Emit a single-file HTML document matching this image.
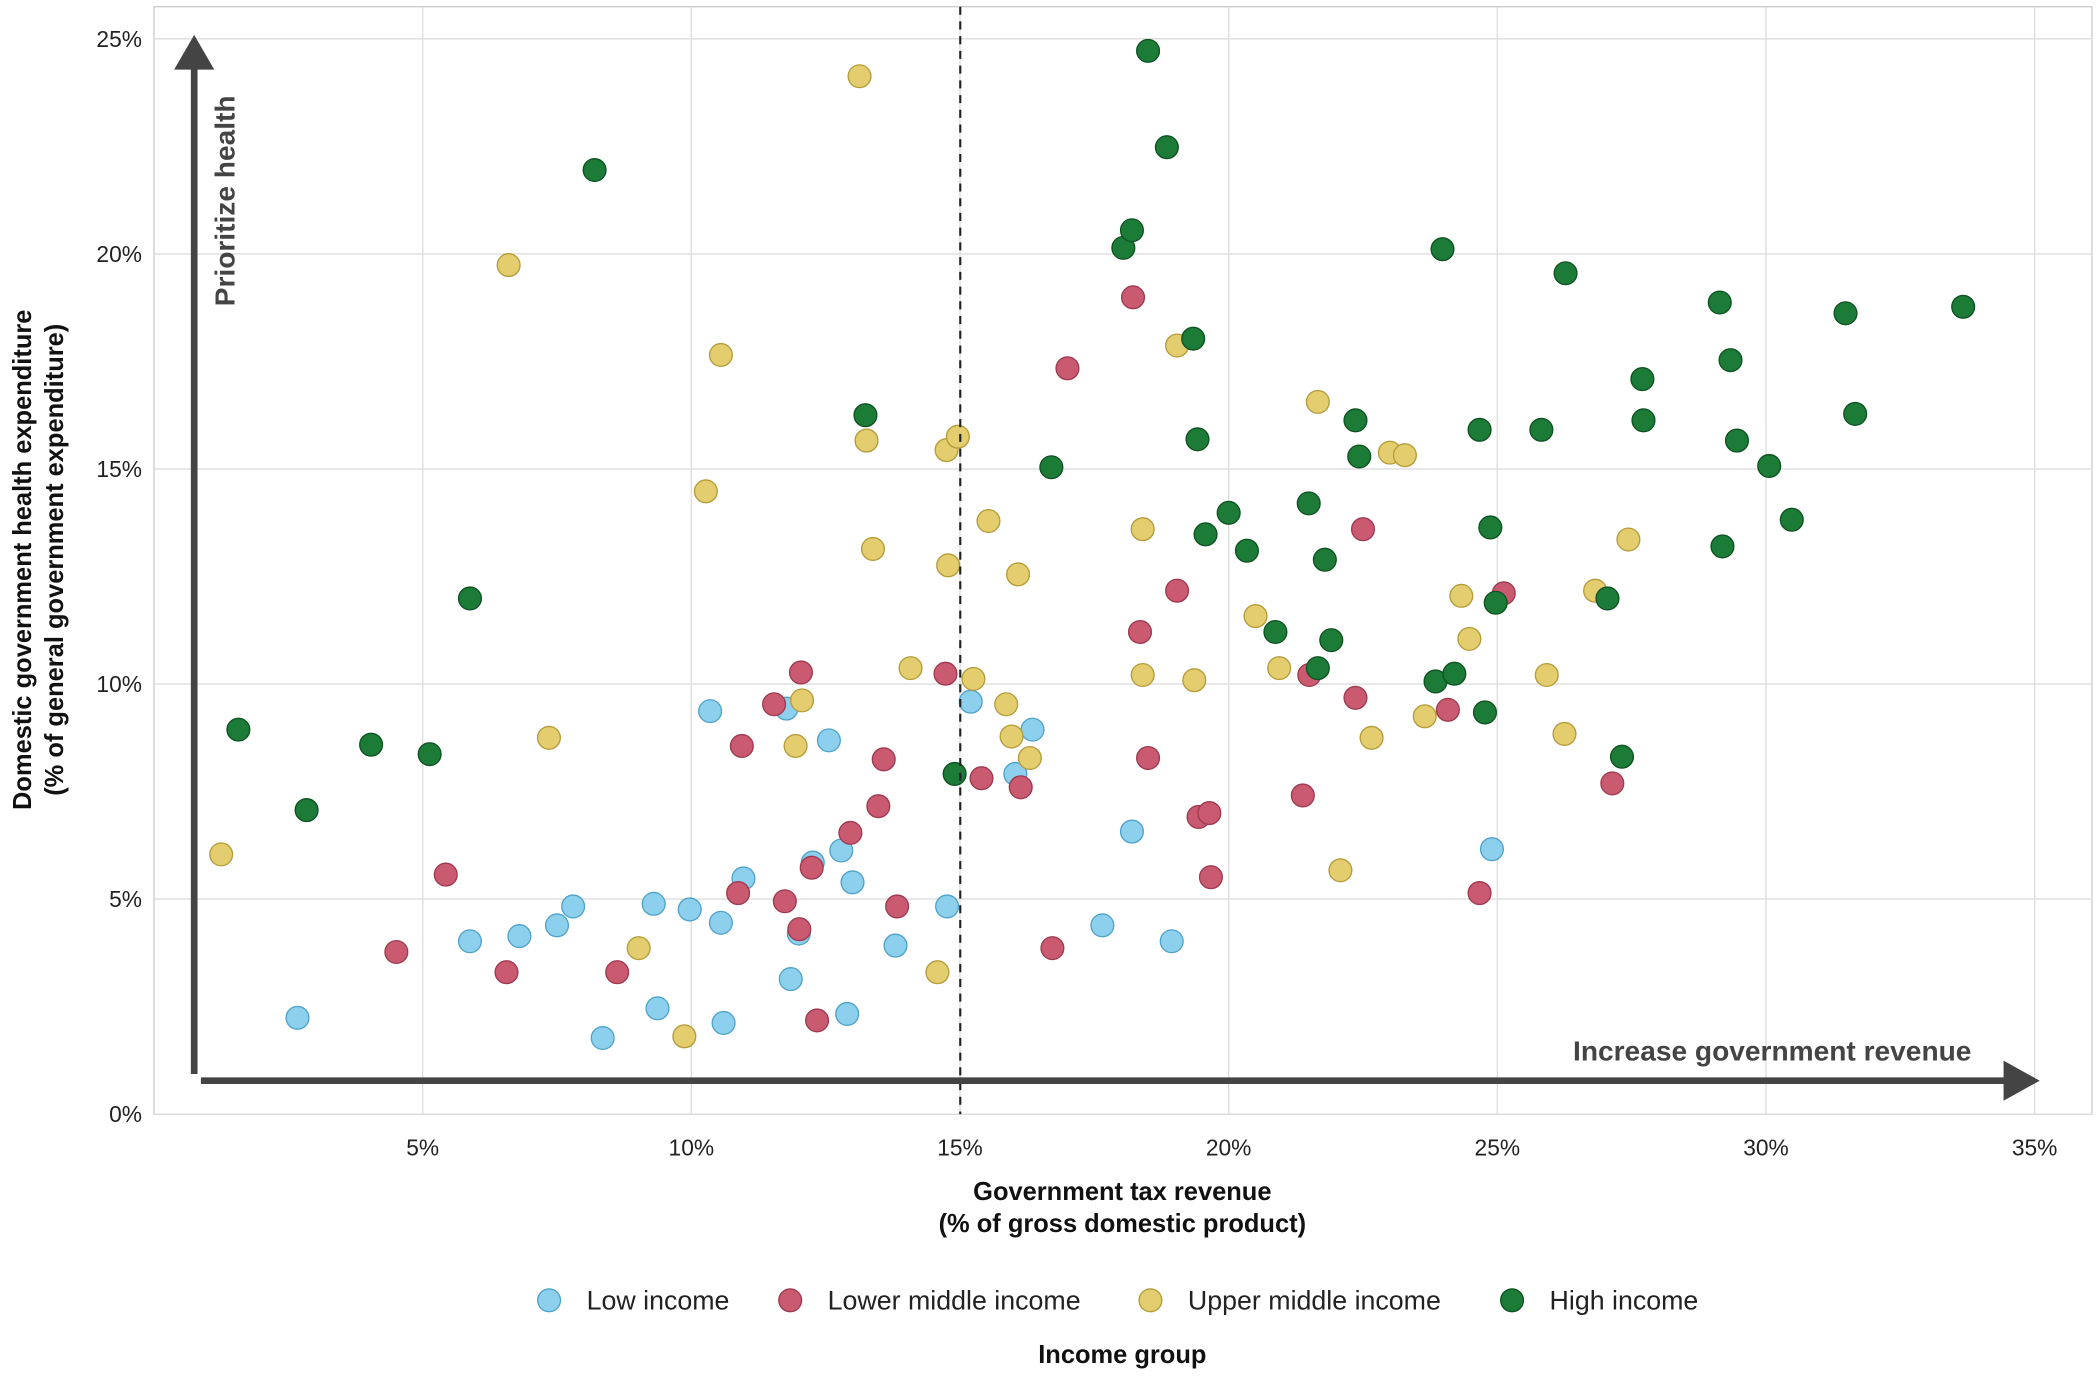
<!DOCTYPE html>
<html><head><meta charset="utf-8"><style>
html,body{margin:0;padding:0;background:#fff;}
svg{display:block;font-family:"Liberation Sans",sans-serif;}
</style></head><body>
<svg id="chart" width="2100" height="1382" viewBox="0 0 1568 1032" preserveAspectRatio="none" xmlns="http://www.w3.org/2000/svg">
<g id="grid"></g>
<g id="axes"></g>
<g id="points"></g>
<g id="annot">
  <line x1="717" y1="5" x2="717" y2="832" stroke="#222" stroke-width="1.6" stroke-dasharray="6,5"/>
  <line x1="145" y1="802" x2="145" y2="50" stroke="#444" stroke-width="5"/>
  <polygon points="145,26 130,52 160,52" fill="#444"/>
  <line x1="150" y1="807" x2="1498" y2="807" stroke="#444" stroke-width="5"/>
  <polygon points="1523,807 1496,792 1496,822" fill="#444"/>
  <text transform="translate(175,150) rotate(-90)" text-anchor="middle" font-size="21" font-weight="bold" fill="#444">Prioritize health</text>
  <text x="1472" y="792" text-anchor="end" font-size="21" font-weight="bold" fill="#444">Increase government revenue</text>
  <text x="838" y="896" text-anchor="middle" font-size="19" font-weight="bold" fill="#111">Government tax revenue</text>
  <text x="838" y="920" text-anchor="middle" font-size="19" font-weight="bold" fill="#111">(% of gross domestic product)</text>
  <text transform="translate(23,418) rotate(-90)" text-anchor="middle" font-size="19" font-weight="bold" fill="#111">Domestic government health expenditure</text>
  <text transform="translate(47,418) rotate(-90)" text-anchor="middle" font-size="19" font-weight="bold" fill="#111">(% of general government expenditure)</text>
  <text x="838" y="1018" text-anchor="middle" font-size="19" font-weight="bold" fill="#111">Income group</text>
</g>
<g id="legend"></g>
</svg>
<script>
const xTicks = [5,10,15,20,25,30,35];
const yTicks = [0,5,10,15,20,25];
const groupNames = ["Low income","Lower middle income","Upper middle income","High income"];
const lowX = [2.67,5.88,6.8,7.5,7.8,8.35,9.3,9.37,9.97,10.35,10.55,10.6,10.97,11.77,11.85,12.0,12.26,12.56,12.79,12.9,13.0,13.8,14.76,15.2,16.03,16.35,17.65,18.2,18.94,24.9];
const lowY = [2.24,4.02,4.14,4.39,4.83,1.77,4.89,2.46,4.76,9.37,4.45,2.12,5.48,9.43,3.14,4.2,5.85,8.69,6.13,2.33,5.39,3.92,4.83,9.59,7.91,8.94,4.39,6.57,4.02,6.16];
const lmX = [4.51,5.43,6.56,8.62,10.87,10.94,11.54,11.74,12.04,12.01,12.24,12.34,12.96,13.48,13.58,13.83,14.73,15.4,16.13,16.72,17.0,18.22,18.35,18.5,19.04,19.44,19.64,19.67,21.38,21.5,22.36,22.5,24.08,24.67,25.12,27.14];
const lmY = [3.77,5.57,3.3,3.3,5.14,8.56,9.53,4.95,10.27,4.3,5.73,2.18,6.54,7.16,8.25,4.83,10.24,7.81,7.6,3.86,17.34,18.99,11.21,8.28,12.17,6.91,7.0,5.51,7.41,10.21,9.68,13.6,9.4,5.14,12.11,7.69];
const umX = [1.25,6.6,7.35,9.02,9.87,10.27,10.55,11.94,12.06,13.13,13.26,13.38,14.08,14.58,14.75,14.78,14.96,15.25,15.53,15.86,15.96,16.08,16.3,18.4,18.4,19.04,19.36,20.5,20.94,21.66,22.08,22.66,23.0,23.28,23.65,24.33,24.48,25.92,26.25,26.82,27.44];
const umY = [6.04,19.74,8.75,3.86,1.81,14.48,17.65,8.56,9.62,24.13,15.66,13.14,10.37,3.3,15.44,12.76,15.75,10.12,13.79,9.53,8.78,12.55,8.28,13.6,10.21,17.87,10.09,11.58,10.37,16.56,5.67,8.75,15.38,15.32,9.25,12.05,11.05,10.21,8.84,12.17,13.36];
const hiX = [1.57,2.84,4.04,5.13,5.88,8.2,13.24,14.9,16.7,18.04,18.2,18.5,18.85,19.34,19.42,19.57,20.0,20.34,20.87,21.49,21.66,21.79,21.91,22.36,22.43,23.85,23.98,24.2,24.67,24.77,24.87,24.97,25.82,26.27,27.05,27.32,27.7,27.72,29.14,29.19,29.34,29.46,30.06,30.48,31.48,31.66,33.67];
const hiY = [8.94,7.07,8.59,8.37,11.99,21.95,16.25,7.91,15.04,20.14,20.55,24.72,22.48,18.03,15.69,13.48,13.98,13.1,11.21,14.2,10.37,12.89,11.02,16.13,15.29,10.06,20.11,10.24,15.91,9.34,13.64,11.89,15.91,19.55,11.99,8.31,17.09,16.13,18.87,13.2,17.53,15.66,15.07,13.82,18.62,16.28,18.77];

const NS="http://www.w3.org/2000/svg";
const L=115,R=1562,T=5,B=832;
const xs=v=>L+v*40.12;
const ys=v=>B-v*32.12;
function mk(tag,attrs,parent){const e=document.createElementNS(NS,tag);for(const k in attrs)e.setAttribute(k,attrs[k]);parent.appendChild(e);return e;}
const grid=document.getElementById('grid'),axes=document.getElementById('axes'),pts=document.getElementById('points'),leg=document.getElementById('legend');
const frame=mk('rect',{x:L,y:T,width:R-L,height:B-T,fill:'none',stroke:'#ccc','stroke-width':1},grid);


xTicks.forEach(t=>{
  const g=mk('line',{x1:xs(t),x2:xs(t),y1:T,y2:B,stroke:'#ddd','stroke-width':1},grid);
  
  
  const tx=mk('text',{x:xs(t),y:863,'text-anchor':'middle','font-size':17,fill:'#222'},axes);
  tx.textContent=t+'%';
  
  
});
yTicks.forEach(t=>{
  const g=mk('line',{x1:L,x2:R,y1:ys(t),y2:ys(t),stroke:'#ddd','stroke-width':1},grid);
  
  
  const tx=mk('text',{x:106,y:ys(t)+6,'text-anchor':'end','font-size':17,fill:'#222'},axes);
  tx.textContent=t+'%';
  
  
});
const styles=[{f:'#8dd0ee',s:'#4fa3c9'},{f:'#c95a70',s:'#9e3a50'},{f:'#e4cd6e',s:'#b59c3a'},{f:'#1c7b37',s:'#0e5222'}];
const series=[[lowX,lowY],[lmX,lmY],[umX,umY],[hiX,hiY]];
series.forEach((sr,gi)=>{
  sr[0].forEach((x,i)=>{
    const c=mk('circle',{cx:xs(x),cy:ys(sr[1][i]),r:8.5,fill:styles[gi].f,stroke:styles[gi].s,'stroke-width':1},pts);
    
    
  });
});
const legX=[410,590,859,1129];
groupNames.forEach((n,gi)=>{
  const c=mk('circle',{cx:legX[gi],cy:971,r:8.5,fill:styles[gi].f,stroke:styles[gi].s,'stroke-width':1},leg);
  
  
  const t=mk('text',{x:legX[gi]+28,y:978,'font-size':20,fill:'#222'},leg);
  t.textContent=n;
  
  
});
</script>
</body></html>
